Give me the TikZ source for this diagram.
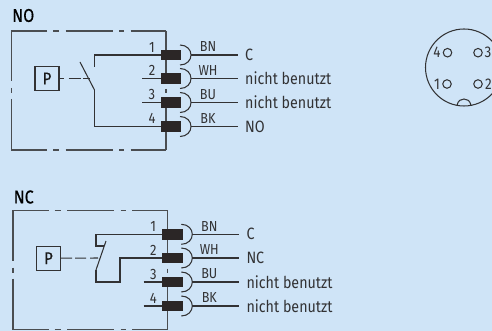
\documentclass[tikz,border=0pt]{standalone}
\usepackage{fontspec}
\setmainfont[FakeStretch=0.87]{Fira Sans}
\newfontfamily\headfont[FakeStretch=0.87,FakeBold=0.5]{Fira Sans}
\definecolor{bgc}{RGB}{207,228,247}
\definecolor{linec}{RGB}{50,50,52}
\definecolor{plugc}{RGB}{43,38,38}
\tikzset{
  wire/.style={draw=linec,line width=1.05pt},
  frame/.style={draw=linec!85!bgc,line width=1.05pt},
  plugbox/.style={fill=plugc,draw=none,minimum width=20.6pt,minimum height=10.8pt,inner sep=0pt},
  pbox/.style={draw=linec,line width=1.05pt,minimum width=24pt,minimum height=24pt,inner sep=0pt,font=\headfont\fontsize{17}{17}\selectfont,text=black!90},
  pinnum/.style={font=\fontsize{15}{15}\selectfont,text=linec,inner sep=0pt},
  colr/.style={font=\fontsize{14.5}{15}\selectfont,text=linec,inner sep=0pt},
  lab/.style={font=\fontsize{16.4}{17}\selectfont,text=linec,inner sep=0pt,anchor=west},
  heading/.style={font=\headfont\fontsize{18.5}{19}\selectfont,text=black,inner sep=0pt},
  pindot/.style={circle,draw=linec,line width=1.05pt,minimum size=8.5pt,inner sep=0pt},
  pinchar/.style={font=\fontsize{15.5}{16}\selectfont,text=linec,inner sep=0pt},
}
% #1 name prefix, #2 x-offset, #3 y, #4 number, #5 colour code, #6 label
\newcommand{\pinrow}[6]{%
  \node[plugbox] (#1p) at (#2+171,#3) {};
  \coordinate (#1a) at (#2+191,#3);
  \coordinate (#1e) at (#2+238,#3);
  \draw[wire] (#2+180,#3-10) .. controls (#2+187,#3-10) and (#2+191,#3-5) .. (#1a) .. controls (#2+191,#3+5) and (#2+187,#3+10) .. (#2+180,#3+10);
  \draw[wire] (#1a) -- (#1e);
  \node[pinnum] (#1n) at (#2+152,#3-8) {#4};
  \node[colr] (#1c) at (#2+208,#3-8) {#5};
  \node[lab] (#1l) at (#2+245,#3) {#6};
}
% #1 x-offset, #2 top y, #3 bottom y
\newcommand{\housing}[3]{%
  \draw[frame] (#1+47,#2) -- (#1+11.5,#2) -- (#1+11.5,#2+50);
  \draw[frame] (#1+11.5,#2+57) -- (#1+11.5,#2+62);
  \draw[frame] (#1+11.5,#2+68) -- (#1+11.5,#3) -- (#1+47,#3);
  \foreach \yy in {#2,#3} {
    \draw[frame] (#1+53,\yy) -- (#1+59,\yy);
    \draw[frame] (#1+65.5,\yy) -- (#1+112.5,\yy);
    \draw[frame] (#1+119,\yy) -- (#1+124,\yy);
    \draw[frame] (#1+130.5,\yy) -- (#1+166,\yy);
  }
  \draw[frame] (#1+166,#2) -- (#1+166,#2+50);
  \draw[frame] (#1+166,#2+58) -- (#1+166,#2+62);
  \draw[frame] (#1+166,#2+68) -- (#1+166,#3);
}
\begin{document}
\begin{tikzpicture}[x=1pt,y=-1pt]
\useasboundingbox[fill=bgc] (0,0) rectangle (492,331);
\begin{scope}
\clip (0,0) rectangle (492,331);
% ---------- NO ----------
\node[heading,anchor=west] (titleno) at (12,15.5) {NO};
\housing{0}{31}{150}
\node[pbox] (pno) at (47,78.5) {P};
\pinrow{noa}{0}{55}{1}{BN}{C}
\pinrow{nob}{0}{78.5}{2}{WH}{nicht benutzt}
\pinrow{noc}{0}{102.5}{3}{BU}{nicht benutzt}
\pinrow{nod}{0}{126.5}{4}{BK}{NO}
\coordinate (noswa) at (80,62);
\coordinate (noswb) at (94.5,90);
\coordinate (nowa) at (94.5,67);
\coordinate (nosa) at (142,78.5);
\coordinate (nosb) at (142,102.5);
\draw[wire] (noswa) -- (noswb);
\draw[wire] (nowa) |- (noap.west);
\draw[wire] (noswb) |- (nodp.west);
\draw[wire] (nosa) -- (nobp.west);
\draw[wire] (nosb) -- (nocp.west);
\draw[wire,dash pattern=on 4pt off 5pt on 12pt off 2.5pt on 8pt off 0pt] (pno.east) -- (90,78.5);
% ---------- NC ----------
\node[heading,anchor=west] (titlenc) at (13.5,197) {NC};
\housing{1.5}{210.5}{329.5}
\node[pbox] (pnc) at (48.5,258.2) {P};
\pinrow{nca}{1.3}{234.3}{1}{BN}{C}
\pinrow{ncb}{1.3}{258}{2}{WH}{NC}
\pinrow{ncc}{1.3}{282}{3}{BU}{nicht benutzt}
\pinrow{ncd}{1.3}{306}{4}{BK}{nicht benutzt}
\coordinate (ncswa) at (106,241);
\coordinate (ncswb) at (96,270);
\coordinate (ncw) at (96,246);
\coordinate (ncwe) at (104,246);
\coordinate (ncv) at (120,282);
\coordinate (ncsa) at (143.5,282);
\coordinate (ncsb) at (143.5,306);
\draw[wire] (ncswa) -- (ncswb);
\draw[wire] (ncap.west) -| (ncw) -- (ncwe);
\draw[wire] (ncbp.west) -| (ncv) -| (ncswb);
\draw[wire] (ncsa) -- (nccp.west);
\draw[wire] (ncsb) -- (ncdp.west);
\draw[wire,dash pattern=on 11pt off 3pt on 11pt off 4pt on 8pt off 0pt] (pnc.east) -- (98,258);
% ---------- connector face ----------
\coordinate (cc) at (464,67.5);
\draw[wire] (457,105.3) .. controls (458,100.5) and (461,99) .. (464,99) .. controls (467,99) and (470,100.5) .. (471,105.3);
\draw[wire] (cc) circle[radius=38.5];
\node[pindot] (d4) at (447.5,52.7) {};
\node[pindot] (d3) at (478,52.7) {};
\node[pindot] (d1) at (447,84) {};
\node[pindot] (d2) at (478,84) {};
\node[pinchar] (t4) at (437,52.7) {4};
\node[pinchar] (t3) at (488,52.7) {3};
\node[pinchar] (t1) at (437,84) {1};
\node[pinchar] (t2) at (488.5,84) {2};
\end{scope}
\end{tikzpicture}
\end{document}
